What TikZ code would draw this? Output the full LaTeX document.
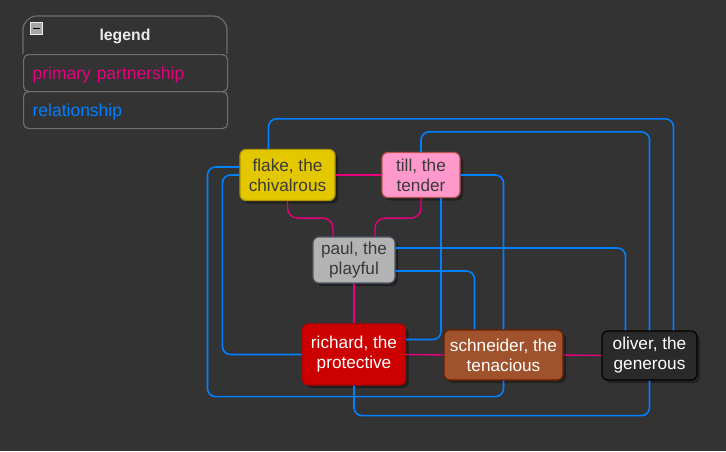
\documentclass[tikz,border=0pt]{standalone}
\usepackage{fontspec}
\setmainfont{Liberation Sans}
\usetikzlibrary{positioning,shadows}
\definecolor{bgdark}{HTML}{333333}
\definecolor{partpink}{RGB}{230,0,126}
\definecolor{relblue}{RGB}{0,127,255}
\definecolor{legendgray}{RGB}{110,110,110}
\definecolor{flakefill}{HTML}{E3C800}
\definecolor{flakeline}{HTML}{B09500}
\definecolor{tillfill}{HTML}{FF99CC}
\definecolor{tillline}{HTML}{B85450}
\definecolor{paulfill}{HTML}{B3B3B3}
\definecolor{paulline}{HTML}{4F5B6B}
\definecolor{richfill}{HTML}{CC0000}
\definecolor{richline}{HTML}{B20000}
\definecolor{schnfill}{HTML}{A0522D}
\definecolor{schnline}{HTML}{6D1F00}
\definecolor{olivfill}{HTML}{2A2A2A}
\definecolor{textdark}{HTML}{3A3A3A}

\tikzset{
  person/.style={draw, line width=1.2pt, rounded corners=6pt, align=center,
    inner sep=0pt, font=\fontsize{17.2}{20}\selectfont,
    drop shadow={shadow xshift=3pt, shadow yshift=-3pt, opacity=0.35, fill=black}},
  partner/.style={partpink, line width=1.4pt, rounded corners=10pt},
  relation/.style={relblue, line width=1.6pt, rounded corners=8pt},
  legendrow/.style={draw=legendgray, line width=1.2pt, rounded corners=5pt,
    minimum width=204pt, minimum height=37pt, inner xsep=9pt, text width=186pt,
    text depth=0pt, font=\fontsize{17.5}{20}\selectfont},
}

\begin{document}
\begin{tikzpicture}[x=1pt,y=-1pt]
\fill[bgdark] (0,0) rectangle (726,451);
\useasboundingbox (0,0) rectangle (726,451);

% Legend
\draw[legendgray, line width=1.2pt, rounded corners=14pt] (23,54) -- (23,16) -- (227,16) -- (227,54);
\node[font=\bfseries\fontsize{15.8}{18}\selectfont, text=white!92!black] (legendtitle) at (125,36) {legend};
\node[legendrow, anchor=north west, text=partpink] (legendpri) at (23,54) {primary partnership};
\node[legendrow, anchor=north west, text=relblue] (legendrel) at (23,91) {relationship};
\fill[gray!70] (30,22) rectangle (43,35);
\draw[white!85!gray, line width=0.8pt] (30.5,22.5) rectangle (42.5,34.5);
\draw[black, line width=1.6pt] (33,28.5) -- (40,28.5);

% People
\node[person, fill=flakefill, draw=flakeline, text=textdark, minimum width=95pt, minimum height=51pt] (flake) at (287.5,175) {flake, the\\chivalrous};
\node[person, fill=tillfill, draw=tillline, text=textdark, minimum width=78pt, minimum height=45pt] (till) at (421,175) {till, the\\tender};
\node[person, fill=paulfill, draw=paulline, text=textdark, minimum width=82pt, minimum height=46pt] (paul) at (354,260) {paul, the\\playful};
\node[person, fill=richfill, draw=richline, text=white, minimum width=103pt, minimum height=61pt] (richard) at (354,354.5) {richard, the\\protective};
\node[person, fill=schnfill, draw=schnline, text=white, minimum width=119pt, minimum height=50pt] (schneider) at (503.5,355) {schneider, the\\tenacious};
\node[person, fill=olivfill, draw=black, text=white, minimum width=95pt, minimum height=49pt] (oliver) at (649.5,355.5) {oliver, the\\generous};

% Primary partnerships
\draw[partner] (flake.east) -- (till.west);
\draw[partner] (flake.south) -- ++(0,17) -| ([xshift=-21pt]paul.north);
\draw[partner] (till.south) -- ++(0,20) -| ([xshift=21pt]paul.north);
\draw[partner] (paul.south) -- (richard.north);
\draw[partner] (richard.east) -- (schneider.west);
\draw[partner] (schneider.east) -- (oliver.west);

% Relationships
\draw[relation] ([xshift=-19pt]flake.north) -- ++(0,-30) -| ([xshift=24pt]oliver.north);
\draw[relation] (till.north) -- ++(0,-20) -| (oliver.north);
\draw[relation] (oliver.south) -- ++(0,35) -| (richard.south);
\draw[relation] (till.east) -| (schneider.north);
\draw[relation] (schneider.south) -- ++(0,16) -- ++(-296,0) |- ([yshift=8pt]flake.west);
\draw[relation] (flake.west) -- ++(-17,0) |- (richard.west);
\draw[relation] ([yshift=12pt]paul.east) -| ([xshift=-24pt]oliver.north);
\draw[relation] ([yshift=-11pt]paul.east) -| ([xshift=-29pt]schneider.north);
\draw[relation] ([xshift=20pt]till.south) |- ([yshift=15pt]richard.east);
\end{tikzpicture}
\end{document}
